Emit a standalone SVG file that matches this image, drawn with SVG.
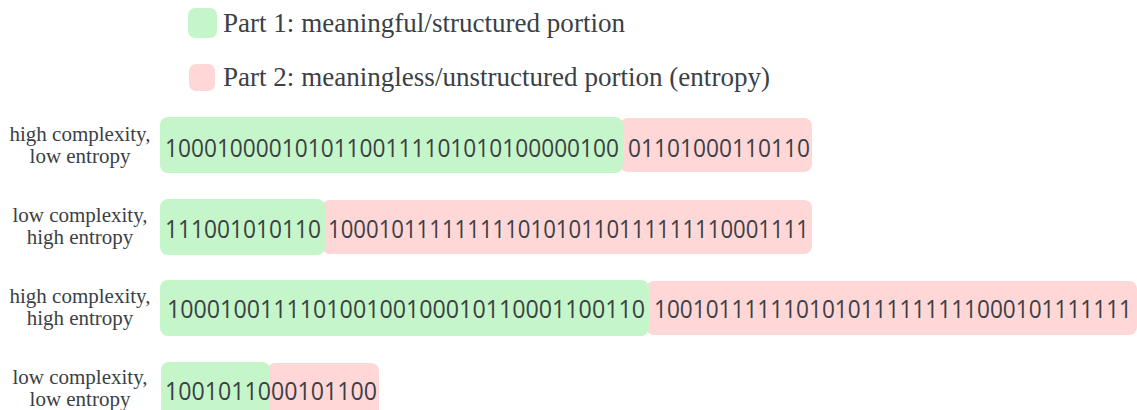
<svg xmlns="http://www.w3.org/2000/svg" width="1137" height="410" viewBox="0 0 1137 410">
<style>
.g{fill:#c5f6c9}
.r{fill:#ffd7d7}
.lab{font-family:"Liberation Serif",serif;font-size:21px;fill:#3b3f46;text-anchor:middle}
.leg{font-family:"Liberation Serif",serif;font-size:27px;fill:#3b3f46}
.bits{font-family:"Open Sans",sans-serif;font-size:25px;fill:#3b3f46}
</style>
<rect width="1137" height="410" fill="#ffffff"/>
<g id="legend">
<rect class="g" x="188" y="8" width="29" height="30" rx="7"/>
<text class="leg" x="223" y="32" textLength="402" lengthAdjust="spacingAndGlyphs">Part 1: meaningful/structured portion</text>
<rect class="r" x="189" y="64" width="26" height="27" rx="7"/>
<text class="leg" x="223" y="86" textLength="547" lengthAdjust="spacingAndGlyphs">Part 2: meaningless/unstructured portion (entropy)</text>
</g>
<g id="connectors"></g>
<g id="row1">
<text class="lab" x="80" y="141">high complexity,</text>
<text class="lab" x="80" y="163">low entropy</text>
<rect class="r" x="620" y="118" width="192" height="54" rx="8"/>
<rect class="g" x="160" y="117" width="463" height="56" rx="8"/>
<text class="bits" x="165" y="157" textLength="454" lengthAdjust="spacingAndGlyphs">10001000010101100111101010100000100</text>
<text class="bits" x="628" y="157" textLength="182" lengthAdjust="spacingAndGlyphs">01101000110110</text>
</g>
<g id="row2">
<text class="lab" x="80" y="222">low complexity,</text>
<text class="lab" x="80" y="244">high entropy</text>
<rect class="r" x="322" y="200" width="490" height="54" rx="8"/>
<rect class="g" x="160" y="199" width="165" height="56" rx="8"/>
<text class="bits" x="165" y="238" textLength="156" lengthAdjust="spacingAndGlyphs">111001010110</text>
<text class="bits" x="328" y="238" textLength="481" lengthAdjust="spacingAndGlyphs">10001011111111101010110111111110001111</text>
</g>
<g id="row3">
<text class="lab" x="80" y="303">high complexity,</text>
<text class="lab" x="80" y="325">high entropy</text>
<rect class="r" x="646" y="281" width="491" height="54" rx="8"/>
<rect class="g" x="160" y="280" width="489" height="56" rx="8"/>
<text class="bits" x="167" y="318" textLength="478" lengthAdjust="spacingAndGlyphs">100010011110100100100010110001100110</text>
<text class="bits" x="654" y="318" textLength="478" lengthAdjust="spacingAndGlyphs">1001011111101010111111111000101111111</text>
</g>
<g id="row4">
<text class="lab" x="80" y="384">low complexity,</text>
<text class="lab" x="80" y="406">low entropy</text>
<rect class="r" x="267" y="363" width="112" height="54" rx="8"/>
<rect class="g" x="161" y="362" width="109" height="56" rx="8"/>
<text class="bits" x="165" y="400" textLength="212" lengthAdjust="spacingAndGlyphs">1001011000101100</text>
</g>
</svg>
